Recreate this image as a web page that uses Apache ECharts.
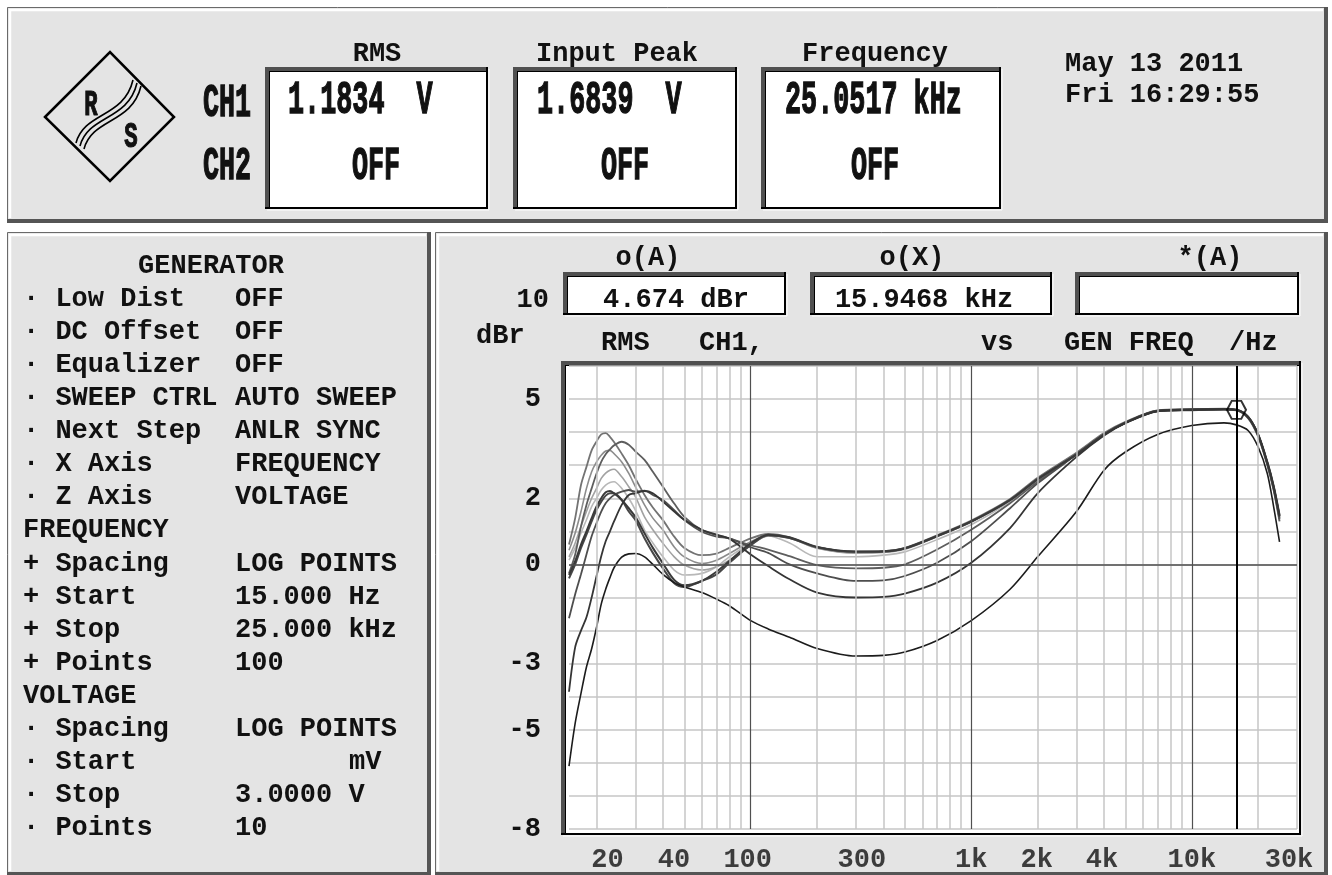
<!DOCTYPE html>
<html><head><meta charset="utf-8">
<script src="https://cdn.jsdelivr.net/npm/echarts@6/dist/echarts.min.js"></script>
<style>html,body{margin:0;padding:0;background:#fff}#c{width:1332px;height:875px}</style>
</head><body><div id="c"></div>
<script>
// ---------------- DATA ----------------
const freqs = [15,16,17,18,19,20,21,22,23,24,26,28,30,33,36,40,45,50,60,70,80,100,120,150,
  200,300,400,500,700,1000,1500,2000,3000,4000,5000,7000,10000,14000,15946,18000,20000,22000,23500,25000];

const dbF1 = [0.60,1.40,2.40,2.95,3.45,3.72,3.93,3.97,3.86,3.70,3.35,3.00,2.60,2.10,1.72,1.34,0.84,0.50,0.28,0.33,0.50,0.79,0.92,0.82,
  0.52,0.38,0.40,0.50,0.88,1.33,1.98,2.62,3.38,3.97,4.31,4.66,4.69,4.71,4.674,4.46,3.92,3.06,2.32,1.42];
const dbF2 = [0.43,0.95,1.60,2.30,2.80,3.10,3.30,3.43,3.45,3.35,3.10,2.75,2.35,1.80,1.40,1.04,0.53,0.23,0.03,0.13,0.33,0.69,0.88,0.80,
  0.50,0.36,0.38,0.48,0.86,1.31,1.96,2.60,3.36,3.95,4.30,4.65,4.68,4.70,4.67,4.45,3.90,3.04,2.30,1.40];
const dbF3 = [0.23,0.65,1.15,1.60,2.00,2.30,2.60,2.76,2.85,2.88,2.65,2.35,2.05,1.44,1.05,0.64,0.23,-0.02,-0.17,-0.07,0.13,0.58,0.86,0.80,
  0.49,0.34,0.36,0.46,0.84,1.29,1.94,2.58,3.34,3.94,4.29,4.64,4.67,4.69,4.67,4.44,3.89,3.03,2.28,1.36];
const dbF4 = [0.13,0.50,0.95,1.35,1.75,2.00,2.25,2.40,2.48,2.50,2.30,2.00,1.64,1.04,0.65,0.23,-0.17,-0.32,-0.27,-0.07,0.23,0.64,0.86,0.65,
  0.23,0.23,0.28,0.38,0.75,1.20,1.90,2.55,3.33,3.93,4.28,4.64,4.67,4.69,4.67,4.43,3.88,3.02,2.25,1.32];
const dbF5 = [-0.32,0.10,0.60,1.00,1.40,1.75,2.00,2.18,2.22,2.15,1.95,1.70,1.44,0.94,0.50,0.03,-0.47,-0.63,-0.50,-0.22,0.10,0.64,0.90,0.82,
  0.53,0.39,0.40,0.49,0.86,1.30,1.95,2.58,3.33,3.93,4.29,4.65,4.69,4.70,4.68,4.47,3.93,3.10,2.38,1.50];
const dbF6 = [-0.42,0.00,0.50,0.90,1.30,1.65,1.90,2.08,2.15,2.15,1.95,1.60,1.34,0.79,0.35,-0.12,-0.57,-0.68,-0.50,-0.30,0.05,0.58,0.88,0.80,
  0.52,0.38,0.39,0.48,0.85,1.29,1.94,2.57,3.32,3.92,4.28,4.64,4.68,4.69,4.67,4.46,3.92,3.08,2.35,1.46];
const dbF7 = [-0.27,0.30,1.15,1.80,2.30,2.75,3.10,3.33,3.48,3.60,3.71,3.62,3.42,3.16,2.80,2.35,1.84,1.44,1.04,0.89,0.79,0.58,0.45,0.25,
  -0.02,-0.12,-0.10,0.00,0.45,1.05,1.85,2.50,3.33,3.93,4.28,4.63,4.66,4.68,4.66,4.42,3.86,3.00,2.25,1.30];
const dbF8 = [-1.63,-0.90,-0.30,0.30,0.85,1.25,1.60,1.85,2.00,2.10,2.20,2.25,2.20,2.23,2.10,1.95,1.64,1.34,0.99,0.84,0.79,0.52,0.35,0.00,
  -0.27,-0.50,-0.48,-0.35,0.05,0.70,1.70,2.45,3.32,3.93,4.28,4.64,4.67,4.69,4.67,4.44,3.90,3.05,2.30,1.38];
const dbF9 = [-3.85,-2.50,-2.00,-1.60,-1.00,-0.35,0.25,0.70,1.00,1.30,1.80,2.10,2.15,2.22,2.15,1.90,1.60,1.35,1.05,0.90,0.78,0.30,-0.05,-0.45,
  -0.85,-1.00,-0.98,-0.88,-0.55,0.05,1.10,2.15,3.25,3.90,4.27,4.63,4.67,4.69,4.67,4.45,3.92,3.08,2.35,1.45];
const dbF10 = [-6.10,-4.80,-3.90,-3.10,-2.55,-1.90,-1.20,-0.75,-0.40,-0.10,0.22,0.32,0.33,0.23,0.00,-0.30,-0.55,-0.68,-0.85,-1.05,-1.25,-1.70,-1.95,-2.20,
  -2.54,-2.77,-2.75,-2.65,-2.30,-1.70,-0.75,0.23,1.60,2.85,3.40,3.93,4.20,4.28,4.22,4.05,3.55,2.75,1.75,0.68];

const xTickVals  = [20,40,100,300,1000,2000,4000,10000,30000];
const xTickText  = ['20','40','100','300','1k','2k','4k','10k','30k'];
const yTickVals  = [5,2,0,-3,-5,-8];
const minorGrid  = [20,30,40,50,60,70,80,90,200,300,400,500,600,700,800,900,2000,3000,4000,5000,6000,7000,8000,9000,20000,30000];
const majorGrid  = [100,1000,10000];
const cursorFreq = 15946.8;
const cursorLevel = 4.674;

// layout nudges for x tick label text (instrument text grid), style only
const xLabelNudge = [11,11,-3,6,0,-1,-2,0,-8];

// ---------------- HELPERS ----------------
const MONO = "'Liberation Mono','DejaVu Sans Mono',monospace";
const G = [];
function rect(x,y,w,h,fill,z){G.push({type:'rect',z:z==null?-5:z,silent:true,shape:{x,y,width:w,height:h},style:{fill}});}
function line(x1,y1,x2,y2,stroke,lw,z){G.push({type:'line',z:z==null?-4:z,silent:true,shape:{x1,y1,x2,y2},style:{stroke,lineWidth:lw}});}
function txt(x,y,s,align,size,sx,sw){
  const st = {text:s,fill:'#111',font:'bold '+(size||27)+'px '+MONO,align:align||'left',verticalAlign:'middle',textAlign:align||'left',textVerticalAlign:'middle'};
  if (sw) { st.stroke = '#111'; st.lineWidth = sw; }
  G.push({type:'text',z:10,silent:true,x,y,scaleX:sx||1,style:st});
}
function panel(x1,y1,x2,y2){
  rect(x1,y1,x2-x1,y2-y1,'#e4e4e4',-6);
  line(x1+0.5,y1+0.5,x2,y1+0.5,'#6a6a6a',1);
  line(x1+0.5,y1+0.5,x1+0.5,y2,'#6a6a6a',1);
  line(x1+2,y1+3,x2-5,y1+3,'#ffffff',2.5);
  line(x1+3,y1+2,x1+3,y2-5,'#ffffff',2.5);
  rect(x1,y2-4,x2-x1,4,'#555555',-4);
  rect(x2-4,y1,4,y2-y1,'#555555',-4);
}
function sunken(x1,y1,x2,y2){
  rect(x1,y1,x2-x1,y2-y1,'#ffffff',-4);
  rect(x1,y1,x2-x1,4,'#505050',-3);
  rect(x1,y1,4,y2-y1,'#505050',-3);
  line(x1+4,y1+4.5,x2,y1+4.5,'#000',1,-3);
  line(x1+4.5,y1+4,x1+4.5,y2,'#000',1,-3);
  line(x2-1,y1,x2-1,y2,'#000',2,-3);
  line(x1,y2-1,x2,y2-1,'#000',2,-3);
  line(x2+1,y1+2,x2+1,y2+1,'#f6f6f6',1.5,-3);
  line(x1+2,y2+1,x2+1,y2+1,'#f6f6f6',1.5,-3);
}

// panels
panel(7,7,1328,223);
panel(7,232,431,876);
panel(435,232,1328,876);

// top value boxes
sunken(265,67,488,209);
sunken(513,67,737,209);
sunken(761,67,1001,209);
// right panel boxes
sunken(563,272,786,315);
sunken(810,272,1052,315);
sunken(1075,272,1299,315);
// plot frame
sunken(561,361,1301,835);

// logo
G.push({type:'polygon',z:5,silent:true,shape:{points:[[45,117],[110,52],[174,117],[110,181]]},style:{fill:'none',stroke:'#000',lineWidth:2.5}});
[[0,0],[4,3],[8,6]].forEach(function(o){
  G.push({type:'bezierCurve',z:5,silent:true,shape:{x1:76+o[0],y1:143+o[1],cpx1:84+o[0],cpy1:112+o[1],cpx2:124+o[0],cpy2:118+o[1],x2:133+o[0],y2:80+o[1]},style:{stroke:'#000',lineWidth:1.6,fill:'none'}});
});
txt(91,106,'R','center',36,0.62,1.2);
txt(131,138,'S','center',36,0.62,1.2);

// top panel texts
txt(377,54,'RMS','center');
txt(617,54,'Input Peak','center');
txt(875,54,'Frequency','center');
txt(1065,64,'May 13 2011','left');
txt(1065,95,'Fri 16:29:55','left');
txt(203,104,'CH1','left',46,0.58,1.4);
txt(203,167,'CH2','left',46,0.58,1.4);
txt(288,101,'1.1834  V','left',47,0.57,1.4);
txt(537,101,'1.6839  V','left',47,0.57,1.4);
txt(785,101,'25.0517 kHz','left',47,0.57,1.4);
txt(376,167,'OFF','center',47,0.57,1.4);
txt(625,167,'OFF','center',47,0.57,1.4);
txt(875,167,'OFF','center',47,0.57,1.4);

// left panel
const genRows = [
  ['· Low Dist','OFF'],['· DC Offset','OFF'],['· Equalizer','OFF'],['· SWEEP CTRL','AUTO SWEEP'],
  ['· Next Step','ANLR SYNC'],['· X Axis','FREQUENCY'],['· Z Axis','VOLTAGE'],['FREQUENCY',''],
  ['+ Spacing','LOG POINTS'],['+ Start','15.000 Hz'],['+ Stop','25.000 kHz'],['+ Points','100'],
  ['VOLTAGE',''],['· Spacing','LOG POINTS'],['· Start',''],['· Stop','3.0000 V'],['· Points','10']
];
txt(211,266,'GENERATOR','center');
genRows.forEach(function(r,i){
  const y = 299 + i*33.1;
  txt(23,y,r[0],'left');
  if (r[1]) txt(235,y,r[1],'left');
});
txt(349,299+14*33.1,'mV','left');

// right panel texts
txt(648,258,'o(A)','center');
txt(912,258,'o(X)','center');
txt(1210,258,'*(A)','center');
txt(549,300,'10','right');
txt(676,300,'4.674 dBr','center');
txt(924,300,'15.9468 kHz','center');
txt(476,336,'dBr','left');
txt(601,343,'RMS','left');
txt(699,343,'CH1,','left');
txt(981,343,'vs','left');
txt(1064,343,'GEN FREQ','left');
txt(1229,343,'/Hz','left');

// ---------------- CHART ----------------
const curveDefs = [
  [dbF4,'#b8b8b8',1.6],[dbF3,'#a2a2a2',1.6],[dbF2,'#8c8c8c',1.6],[dbF1,'#737373',1.8],
  [dbF7,'#5e5e5e',1.8],[dbF8,'#4e4e4e',1.8],[dbF6,'#474747',2],[dbF5,'#3a3a3a',2],
  [dbF9,'#353535',1.8],[dbF10,'#1c1c1c',1.6]
];
const series = curveDefs.map(function(c,i){
  return {type:'line',name:'trace'+(i+1),data:freqs.map(function(f,k){return [f,c[0][k]];}),
    showSymbol:false,smooth:0.3,z:3+i*0.01,silent:true,
    lineStyle:{color:c[1],width:c[2]},itemStyle:{color:c[1]}};
});

const gridMarks = minorGrid.map(function(f){return {xAxis:f,lineStyle:{color:'#c6c6c6',width:1.5}};})
  .concat(majorGrid.map(function(f){return {xAxis:f,lineStyle:{color:'#505050',width:1.2}};}))
  .concat([{yAxis:0,lineStyle:{color:'#505050',width:1.5}}])
  .concat([{xAxis:cursorFreq,lineStyle:{color:'#000',width:2}}]);

series.unshift({
  type:'scatter',name:'xticks',z:1,silent:true,clip:false,symbolSize:1,
  itemStyle:{color:'rgba(0,0,0,0)'},
  data:xTickVals.map(function(v,i){return {value:[v,-8],label:{offset:[xLabelNudge[i],31]}};}),
  label:{show:true,position:'inside',color:'#111',fontFamily:MONO,fontWeight:'bold',fontSize:27,
    formatter:function(p){return xTickText[p.dataIndex];}},
  markLine:{silent:true,symbol:['none','none'],label:{show:false},animation:false,lineStyle:{type:'solid'},data:gridMarks}
});
series.push({
  type:'scatter',name:'cursor',z:6,silent:true,clip:false,
  symbol:'path://M0,50 L25,5 L75,5 L100,50 L75,95 L25,95 Z',symbolSize:[19,18],
  itemStyle:{color:'rgba(0,0,0,0)',borderColor:'#000',borderWidth:2},
  data:[[cursorFreq,cursorLevel]]
});

const option = {
  animation:false,
  backgroundColor:'#ffffff',
  graphic:{elements:G},
  grid:{left:569,top:366,width:728,height:463,containLabel:false,outerBoundsMode:'none'},
  xAxis:{type:'log',logBase:10,min:15,max:30000,
    axisLine:{show:false},axisTick:{show:false},axisLabel:{show:false},splitLine:{show:false},minorSplitLine:{show:false}},
  yAxis:{type:'value',min:-8,max:6,interval:1,
    axisLine:{show:false},axisTick:{show:false},
    splitLine:{show:true,lineStyle:{color:'#c6c6c6',width:1.5}},
    axisLabel:{show:true,margin:28,color:'#111',fontFamily:MONO,fontWeight:'bold',fontSize:27,
      formatter:function(v){return yTickVals.indexOf(v)>=0?String(v):'';}}},
  series:series
};
const chart = echarts.init(document.getElementById('c'),null,{renderer:'canvas',width:1332,height:875});
chart.setOption(option);
</script>
</body></html>
